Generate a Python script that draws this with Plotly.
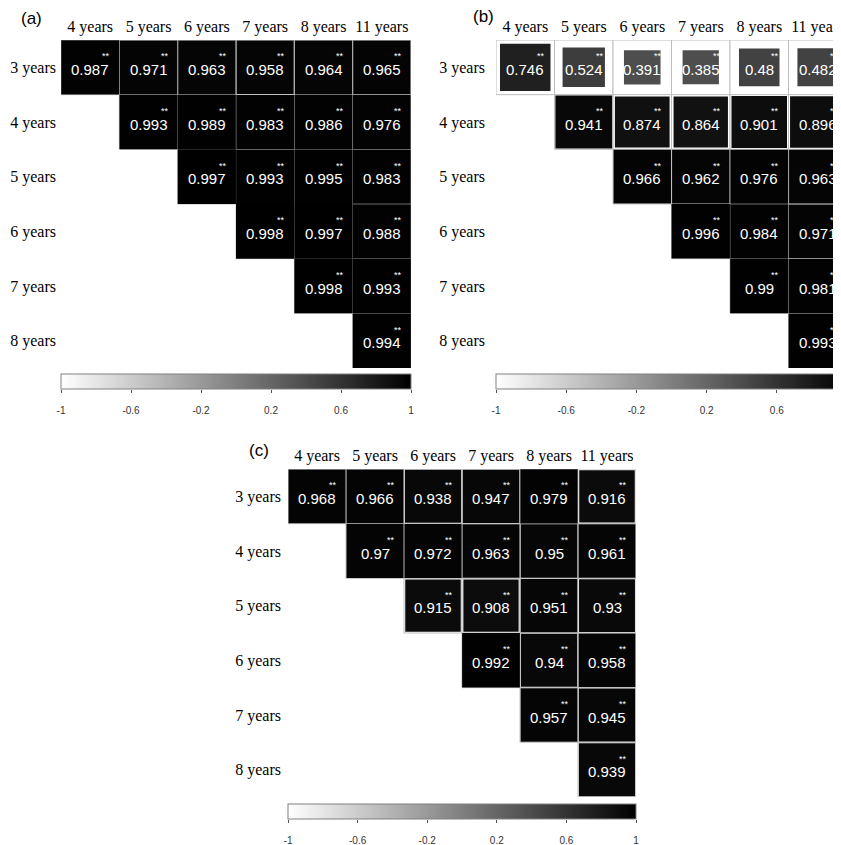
import math
import plotly.graph_objects as go
from plotly.colors import sample_colorscale

# ---------------- data ----------------
ROWS = ["3 years", "4 years", "5 years", "6 years", "7 years", "8 years"]
COLS = ["4 years", "5 years", "6 years", "7 years", "8 years", "11 years"]

# upper-triangle rows (row i starts at column i)
A_VALUES = [
    [0.987, 0.971, 0.963, 0.958, 0.964, 0.965],
    [0.993, 0.989, 0.983, 0.986, 0.976],
    [0.997, 0.993, 0.995, 0.983],
    [0.998, 0.997, 0.988],
    [0.998, 0.993],
    [0.994],
]
B_VALUES = [
    [0.746, 0.524, 0.391, 0.385, 0.48, 0.482],
    [0.941, 0.874, 0.864, 0.901, 0.896],
    [0.966, 0.962, 0.976, 0.963],
    [0.996, 0.984, 0.971],
    [0.99, 0.981],
    [0.993],
]
C_VALUES = [
    [0.968, 0.966, 0.938, 0.947, 0.979, 0.916],
    [0.97, 0.972, 0.963, 0.95, 0.961],
    [0.915, 0.908, 0.951, 0.93],
    [0.992, 0.94, 0.958],
    [0.957, 0.945],
    [0.939],
]
SIG_MARK = "**"
PANEL_LABELS = ["(a)", "(b)", "(c)"]
CB_TICKVALS = [-1, -0.6, -0.2, 0.2, 0.6, 1]
CB_TICKTEXT = ["-1", "-0.6", "-0.2", "0.2", "0.6", "1"]

# ---------------- style / layout (window pixel coordinates) ----------------
WIN_W, WIN_H = 841, 845
OFF = 8                      # page body margin
FW, FH = WIN_W - OFF, WIN_H - OFF
SCALE = [[0.0, "#ffffff"], [1.0, "#000000"]]
GRID_COL = "#bebebe"
SERIF = "Liberation Serif"
SANS = "Liberation Sans"


def fx(p):
    return min(1.0, max(0.0, (p - OFF) / FW))


def fy(p):
    return min(1.0, max(0.0, 1 - (p - OFF) / FH))


PANELS = [
    dict(values=A_VALUES, ax="", x0=61, x1=411, y0=40, y1=368,
         cb=(61, 350, 374, 15), label=(31, 19), standoff=4),
    dict(values=B_VALUES, ax="2", x0=496, x1=847, y0=40, y1=368,
         cb=(496, 351, 374, 15), label=(483, 16), standoff=10),
    dict(values=C_VALUES, ax="3", x0=288, x1=636, y0=469, y1=797,
         cb=(288, 348, 804, 15), label=(259, 451), standoff=6),
]

fig = go.Figure()
shapes = []
annotations = []
layout_axes = {}

for n, p in enumerate(PANELS):
    xa = "x" + p["ax"]
    ya = "y" + p["ax"]
    ncol = len(COLS)
    # visible part of the grid (panel b runs past the right edge of the window)
    vis_x1 = min(p["x1"], WIN_W)
    frac = (vis_x1 - p["x0"]) / (p["x1"] - p["x0"])
    xrange = [-0.5, -0.5 + ncol * frac]

    for i, row in enumerate(p["values"]):
        for k, v in enumerate(row):
            j = i + k
            shapes.append(dict(type="rect", xref=xa, yref=ya,
                               x0=j - 0.5, x1=j + 0.5, y0=i - 0.5, y1=i + 0.5,
                               line=dict(color=GRID_COL, width=1), fillcolor="white"))
    for i, row in enumerate(p["values"]):
        for k, v in enumerate(row):
            j = i + k
            s = math.sqrt(abs(v)) / 2
            col = sample_colorscale(SCALE, [(v + 1) / 2])[0]
            shapes.append(dict(type="rect", xref=xa, yref=ya,
                               x0=j - s, x1=j + s, y0=i - s, y1=i + s,
                               line=dict(width=0), fillcolor=col))
            annotations.append(dict(x=j, y=i, xref=xa, yref=ya, text=f"{v:g}",
                                    showarrow=False, yshift=-2,
                                    font=dict(family=SANS, size=15, color="white")))
            annotations.append(dict(x=j, y=i, xref=xa, yref=ya, text=SIG_MARK,
                                    showarrow=False, xshift=16, yshift=11,
                                    font=dict(family=SANS, size=9, color="white")))

    layout_axes["xaxis" + p["ax"]] = dict(
        domain=[fx(p["x0"]), fx(vis_x1)], range=xrange, anchor=ya, side="top",
        tickmode="array", tickvals=list(range(ncol)), ticktext=COLS,
        showgrid=False, zeroline=False, showline=False, ticks="", fixedrange=True,
        automargin=False, ticklabeloverflow="allow",
        tickfont=dict(family=SERIF, size=16, color="black"), ticklabelstandoff=4)
    layout_axes["yaxis" + p["ax"]] = dict(
        domain=[fy(p["y1"]), fy(p["y0"])], range=[len(ROWS) - 0.5, -0.5], anchor=xa,
        tickmode="array", tickvals=list(range(len(ROWS))), ticktext=ROWS,
        showgrid=False, zeroline=False, showline=False, ticks="", fixedrange=True,
        automargin=False, ticklabeloverflow="allow",
        tickfont=dict(family=SERIF, size=16, color="black"),
        ticklabelstandoff=p["standoff"])

    # colour bar + its tick axis
    cbx, cblen, cbtop, cbth = p["cb"]
    cid = str(n + 4)
    cb_vis_x1 = min(cbx + cblen, WIN_W)
    cfrac = (cb_vis_x1 - cbx) / cblen
    fig.add_trace(go.Scatter(
        x=[None], y=[None], xaxis="x" + cid, yaxis="y" + cid, mode="markers",
        showlegend=False, hoverinfo="skip",
        marker=dict(color=[0], cmin=-1, cmax=1, colorscale=SCALE, showscale=True,
                    colorbar=dict(orientation="h", xref="container", yref="container",
                                  x=(cbx - OFF) / FW, xanchor="left",
                                  y=1 - (cbtop - OFF) / FH, yanchor="top",
                                  len=cblen, lenmode="pixels", thickness=cbth,
                                  thicknessmode="pixels", xpad=0, ypad=0,
                                  outlinecolor="#808080", outlinewidth=1,
                                  ticks="", showticklabels=False)),
    ))
    layout_axes["xaxis" + cid] = dict(
        domain=[fx(cbx), fx(cb_vis_x1)], range=[-1, -1 + 2 * cfrac], anchor="y" + cid,
        side="bottom", tickmode="array", tickvals=CB_TICKVALS, ticktext=CB_TICKTEXT,
        ticks="outside", ticklen=3, tickcolor="#555555", tickwidth=1,
        showgrid=False, zeroline=False, showline=False, fixedrange=True,
        automargin=False, ticklabelstandoff=9,
        tickfont=dict(family=SANS, size=10, color="#333333"))
    layout_axes["yaxis" + cid] = dict(
        domain=[fy(cbtop + cbth), fy(cbtop)], range=[0, 1], anchor="x" + cid,
        visible=False, fixedrange=True)

    lx, ly = p["label"]
    annotations.append(dict(x=fx(lx), y=fy(ly), xref="paper", yref="paper",
                            xanchor="center", yanchor="middle",
                            text=PANEL_LABELS[n], showarrow=False,
                            font=dict(family=SANS, size=17, color="black")))

fig.update_layout(
    width=FW, height=FH, margin=dict(l=0, r=0, t=0, b=0, pad=0, autoexpand=False),
    paper_bgcolor="white", plot_bgcolor="rgba(0,0,0,0)",
    shapes=shapes, annotations=annotations, showlegend=False,
    **layout_axes,
)

fig.write_html("out.html")
